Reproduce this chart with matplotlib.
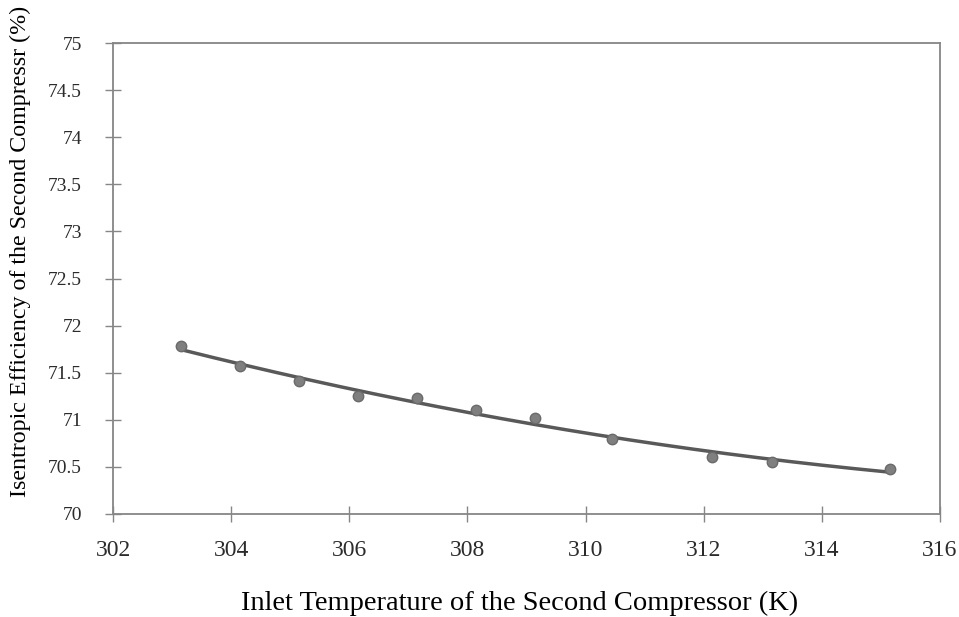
import numpy as np
from matplotlib import pyplot as plt

# inlet temperature (K) and isentropic efficiency (%)
temp = [303.15, 304.15, 305.15, 306.15, 307.15, 308.15, 309.15, 310.45, 312.15, 313.15, 315.15]
eff = [71.78, 71.57, 71.41, 71.25, 71.23, 71.10, 71.02, 70.80, 70.60, 70.55, 70.48]

xticks = [302, 304, 306, 308, 310, 312, 314, 316]
yticks = [70, 70.5, 71, 71.5, 72, 72.5, 73, 73.5, 74, 74.5, 75]

plt.rcParams['font.family'] = ['Liberation Serif', 'DejaVu Serif']

fig = plt.figure(figsize=(9.59, 6.17), dpi=100)
ax = fig.add_axes([0.118, 0.167, 0.862, 0.763])

# 2nd order trend line through the points (like a spreadsheet trendline)
coef = np.polyfit(temp, eff, 2)
xf = np.linspace(min(temp), max(temp), 200)
ax.plot(xf, np.polyval(coef, xf), color='#595959', lw=2.5, zorder=2)
ax.plot(temp, eff, 'o', ms=7.5, color='#7f7f7f', mec='#6a6a6a', zorder=3)

ax.set_xlim(302, 316)
ax.set_ylim(70, 75)
ax.set_xticks(xticks)
ax.set_yticks(yticks)
ax.set_yticklabels(['{:g}'.format(v) for v in yticks])
ax.tick_params(direction='inout', length=11, width=1, color='#868686',
               labelcolor='#2b2b2b')
ax.tick_params(axis='x', labelsize=17, pad=13)
ax.tick_params(axis='y', labelsize=14, pad=17)
for sp in ax.spines.values():
    sp.set_color('#868686')
    sp.set_linewidth(1.3)

ax.set_xlabel('Inlet Temperature of the Second Compressor (K)', fontsize=20.5)
ax.set_ylabel('Isentropic Efficiency of the Second Compressr (%)', fontsize=17.3)
ax.xaxis.set_label_coords(0.492, -0.189)
ax.yaxis.set_label_coords(-0.1125, 0.558)
ax.xaxis.label.set_va('center')
ax.yaxis.label.set_va('center')

fig.savefig('out.png', dpi=100)
